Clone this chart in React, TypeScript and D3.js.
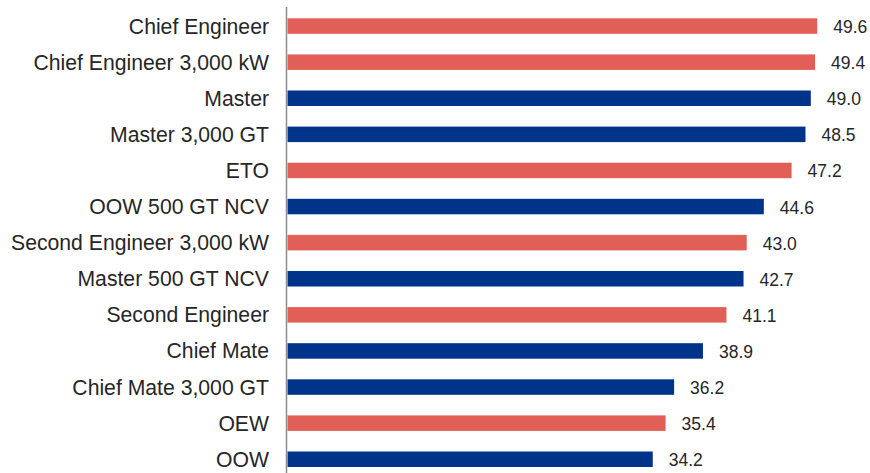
import React from "react";
import * as d3 from "d3";

const categories = [
  "Chief Engineer",
  "Chief Engineer 3,000 kW",
  "Master",
  "Master 3,000 GT",
  "ETO",
  "OOW 500 GT NCV",
  "Second Engineer 3,000 kW",
  "Master 500 GT NCV",
  "Second Engineer",
  "Chief Mate",
  "Chief Mate 3,000 GT",
  "OEW",
  "OOW",
];
const values = [49.6, 49.4, 49.0, 48.5, 47.2, 44.6, 43.0, 42.7, 41.1, 38.9, 36.2, 35.4, 34.2];
const groups = ["eng", "eng", "deck", "deck", "eng", "deck", "eng", "deck", "eng", "deck", "deck", "eng", "deck"];

const W = 870;
const H = 473;
const RED = "#E15F57";
const BLUE = "#00338A";
const TEXT = "#262626";

export default function App() {
  const x = d3.scaleLinear().domain([0, 55]).range([287.5, 287.5 + 55 * 10.68]);
  const y = d3.scaleBand<string>().domain(categories).range([8, 477.3]).padding(0);
  const barH = 15.5;
  return (
    <svg width={W} height={H} style={{ position: "absolute", left: 0, top: 0, fontFamily: "'Liberation Sans', Arial, sans-serif" }}>
      <rect width={W} height={H} fill="#fff" />
      {categories.map((c, i) => {
        const cy = (y(c) as number) + y.bandwidth() / 2;
        return (
          <g key={c}>
            <rect
              x={x(0)}
              y={cy - barH / 2}
              width={x(values[i]) - x(0)}
              height={barH}
              fill={groups[i] === "eng" ? RED : BLUE}
            />
            <text x={269} y={cy} textAnchor="end" dominantBaseline="central" fontSize={21.2} fill={TEXT}>
              {c}
            </text>
            <text x={x(values[i]) + 16} y={cy + 1} dominantBaseline="central" fontSize={17.5} fill={TEXT}>
              {d3.format(".1f")(values[i])}
            </text>
          </g>
        );
      })}
      <line x1={286.5} x2={286.5} y1={7} y2={H} stroke="#8c8c8c" strokeWidth={1.5} />
    </svg>
  );
}
